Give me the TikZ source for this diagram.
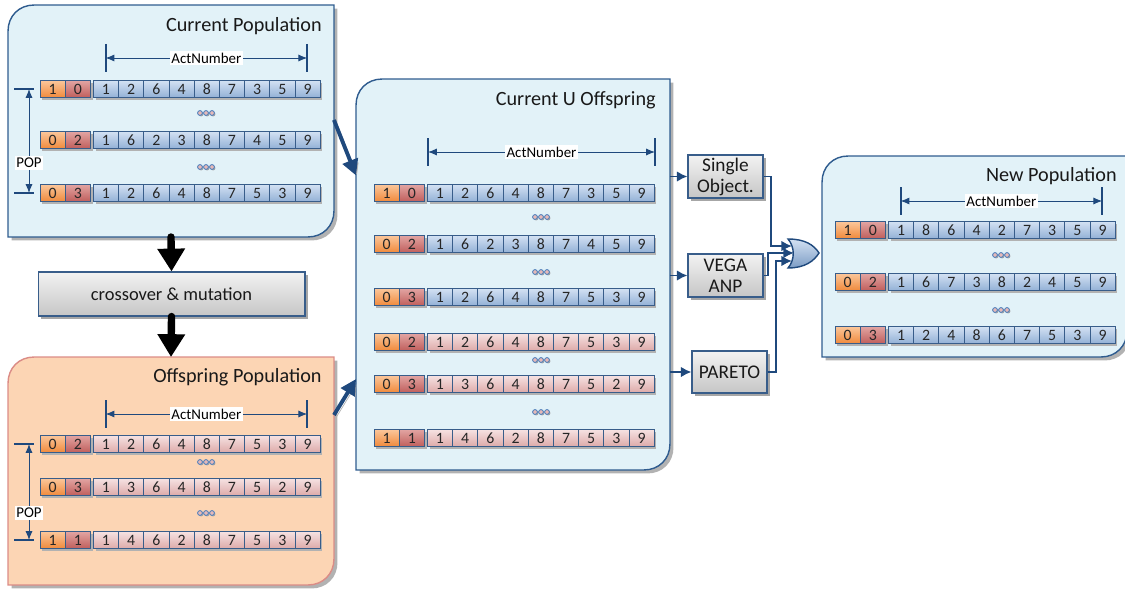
\documentclass[tikz,border=0pt]{standalone}
\usepackage{fontspec}
\setmainfont{Carlito}
\usetikzlibrary{arrows.meta,calc,shadows}
\pgfdeclarelayer{background}
\pgfsetlayers{background,main}

\definecolor{panelblue}{HTML}{E2F2F8}
\definecolor{panelline}{HTML}{2F5C8F}
\definecolor{panelorange}{HTML}{FCD5B4}
\definecolor{orangeline}{HTML}{DB8C86}
\definecolor{navy}{HTML}{1F497D}
\definecolor{cellline}{HTML}{385D8A}
\definecolor{geneT}{HTML}{D3E1F3}
\definecolor{geneB}{HTML}{93B1D6}
\definecolor{kidT}{HTML}{F6E2E2}
\definecolor{kidB}{HTML}{DDAAA9}
\definecolor{flagAT}{HTML}{FBC69A}
\definecolor{flagAB}{HTML}{F08A3C}
\definecolor{flagBT}{HTML}{E2A4A2}
\definecolor{flagBB}{HTML}{C05F5C}
\definecolor{dotpink}{HTML}{E6B9B8}
\definecolor{dotblue}{HTML}{4F81BD}

\tikzset{
  cell/.style={draw=cellline, line width=0.5pt, minimum width=0.504cm, minimum height=0.34cm,
    inner sep=0pt, font=\fontsize{9}{9}\selectfont, text=black!85,
    drop shadow={shadow xshift=1.2pt, shadow yshift=-1.2pt, opacity=1, fill=black!30}},
  gene/.style={top color=geneT, bottom color=geneB},
  kid/.style={top color=kidT, bottom color=kidB},
  flagA/.style={top color=flagAT, bottom color=flagAB},
  flagB/.style={top color=flagBT, bottom color=flagBB},
  area/.style={inner sep=0pt, outer sep=0pt},
  bluepanel/.style={draw=panelline, line width=0.8pt, fill=panelblue,
    drop shadow={shadow xshift=2pt, shadow yshift=-2pt, opacity=1, fill=black!30}},
  orangepanel/.style={bluepanel, draw=orangeline, fill=panelorange},
  title/.style={anchor=east, inner sep=0pt, font=\fontsize{11.5}{12}\selectfont, text=black!90},
  tick/.style={draw=navy, line width=1.1pt},
  dimarrow/.style={draw=navy, line width=0.5pt, {Latex[length=5pt,width=4pt]}-{Latex[length=5pt,width=4pt]}},
  dimlabel/.style={fill=white, inner sep=1pt, font=\fontsize{8.5}{9}\selectfont},
  dotmark/.style={draw=dotblue, fill=dotpink, line width=0.5pt,
    drop shadow={shadow xshift=0.6pt, shadow yshift=-0.6pt, opacity=1, fill=black!35}},
  proc/.style={draw=cellline, line width=0.6pt, top color=gray!10, bottom color=gray!45,
    inner sep=0pt, align=center, font=\fontsize{11}{12}\selectfont, text=black!90,
    drop shadow={shadow xshift=1.5pt, shadow yshift=-1.5pt, opacity=1, fill=black!35}},
  bigdown/.style={draw=black, line width=4.2pt, line cap=round, -{Triangle[length=13pt,width=15pt]}},
  bigflow/.style={draw=navy, line width=2.2pt, -{Triangle[length=9pt,width=9pt]},
    preaction={draw=black!30, transform canvas={shift={(1.3pt,-1.3pt)}}}},
  link/.style={draw=navy, line width=1.1pt, -{Latex[length=6pt,width=6pt]}},
  gate/.style={draw=navy, line width=0.8pt, top color=geneT, bottom color=geneB!80!navy}
}

\newcommand\panelpath[1]{(#1.south west) -- ($(#1.north west)+(0,26)$) .. controls ($(#1.north west)+(0,11)$) and ($(#1.north west)+(11,0)$) .. ($(#1.north west)+(26,0)$) -- (#1.north east) -- ($(#1.south east)+(0,-26)$) .. controls ($(#1.south east)+(0,-11)$) and ($(#1.south east)+(-11,0)$) .. ($(#1.south east)+(-26,0)$) -- cycle}

\newcommand\chromo[7]{%
  \node[cell,flagA] (#1-a) at (#2+12.6,#3) {#4};
  \node[cell,flagB] (#1-b) at (#2+37.8,#3) {#5};
  \foreach \g [count=\k] in {#6}
    \node[cell,#7] (#1-\k) at ({#2+66+25.2*(\k-1)},#3) {\g};
}

\newcommand\etcdots[2]{\foreach \d in {-6,0,6} \draw[dotmark] (#1+\d,#2) circle (2.4);}

\newcommand\actspan[4]{%
  \draw[tick] (#2,#4-14) -- (#2,#4+14);
  \draw[tick] (#3,#4-14) -- (#3,#4+14);
  \coordinate (#1-l) at (#2,#4);
  \coordinate (#1-r) at (#3,#4);
  \draw[dimarrow] (#1-l) -- node[dimlabel] (#1-t) {ActNumber} (#1-r);
}

\newcommand\popspan[4]{%
  \draw[tick] (14,#2) -- (34,#2);
  \draw[tick] (14,#3) -- (34,#3);
  \coordinate (#1-t) at (29,#2);
  \coordinate (#1-b) at (29,#3);
  \draw[dimarrow] (#1-t) -- (#1-b);
  \node[dimlabel] (#1-l) at (29,#4) {POP};
}

\begin{document}
\begin{tikzpicture}[x=0.02cm, y=-0.02cm]
\useasboundingbox (0,0) rectangle (1125,588);

\begin{pgfonlayer}{background}
\node[area, minimum width=6.52cm, minimum height=4.64cm] (curpop) at (171,121) {};
\node[area, minimum width=6.52cm, minimum height=4.56cm] (offpop) at (171,471) {};
\node[area, minimum width=6.28cm, minimum height=7.82cm] (cuoff) at (513,274.5) {};
\node[area, minimum width=6.1cm, minimum height=4.02cm] (newpop) at (974.5,256.5) {};
\draw[bluepanel] \panelpath{curpop};
\draw[orangepanel] \panelpath{offpop};
\draw[bluepanel] \panelpath{cuoff};
\draw[bluepanel] \panelpath{newpop};
\end{pgfonlayer}

\node[title] (curpop-t) at (322,26) {Current Population};
\actspan{curact}{105.6}{307.2}{58}
\chromo{cp1}{40}{89}{1}{0}{1,2,6,4,8,7,3,5,9}{gene}
\etcdots{206}{113}
\chromo{cp2}{40}{140}{0}{2}{1,6,2,3,8,7,4,5,9}{gene}
\etcdots{206}{167}
\chromo{cp3}{40}{193}{0}{3}{1,2,6,4,8,7,5,3,9}{gene}
\popspan{curpop}{89}{193}{163}

\node[proc, minimum width=5.34cm, minimum height=0.88cm, font=\fontsize{10.5}{12}\selectfont] (cross) at (171.5,294) {crossover \& mutation};
\draw[bigdown] (curpop.south) -- (cross.north);
\draw[bigdown] (cross.south) -- (offpop.north);

\node[title] (offpop-t) at (322,377) {Offspring Population};
\actspan{offact}{105.6}{307.2}{414}
\chromo{op1}{40}{444}{0}{2}{1,2,6,4,8,7,5,3,9}{kid}
\etcdots{206}{462}
\chromo{op2}{40}{487}{0}{3}{1,3,6,4,8,7,5,2,9}{kid}
\etcdots{206}{513}
\chromo{op3}{40}{540}{1}{1}{1,4,6,2,8,7,5,3,9}{kid}
\popspan{offpopd}{444}{540}{513}

\node[title] (cuoff-t) at (656,100) {Current U Offspring};
\actspan{cuact}{428}{655}{152}
\chromo{cu1}{374}{193}{1}{0}{1,2,6,4,8,7,3,5,9}{gene}
\etcdots{541}{217}
\chromo{cu2}{374}{244}{0}{2}{1,6,2,3,8,7,4,5,9}{gene}
\etcdots{541}{272}
\chromo{cu3}{374}{297}{0}{3}{1,2,6,4,8,7,5,3,9}{gene}
\chromo{cu4}{374}{342}{0}{2}{1,2,6,4,8,7,5,3,9}{kid}
\etcdots{541}{360}
\chromo{cu5}{374}{384}{0}{3}{1,3,6,4,8,7,5,2,9}{kid}
\etcdots{541}{412}
\chromo{cu6}{374}{438}{1}{1}{1,4,6,2,8,7,5,3,9}{kid}

\draw[bigflow] ($(curpop.east)+(0,-1)$) -- ($(cuoff.west)+(0,-99)$);
\draw[bigflow] ($(offpop.east)+(0,-56)$) -- ($(cuoff.west)+(0,104.5)$);

\node[proc, minimum width=1.5cm, minimum height=0.86cm] (single) at (725.5,176.5) {Single\\Object.};
\node[proc, minimum width=1.5cm, minimum height=0.86cm] (vega) at (725.5,275.5) {VEGA\\ANP};
\node[proc, minimum width=1.5cm, minimum height=0.84cm] (pareto) at (729.5,372) {PARETO};
\draw[link] (cuoff.east |- single.west) -- (single.west);
\draw[link] (cuoff.east |- vega.west) -- (vega.west);
\draw[link] (cuoff.east |- pareto.west) -- (pareto.west);

\draw[gate] (788,239) .. controls (805,239) and (814,245) .. (819,253) .. controls (814,261) and (805,268) .. (788,268) .. controls (795,260) and (795,247) .. cycle;
\coordinate (in1) at (792,246);
\coordinate (in2) at (794,253);
\coordinate (in3) at (792,261);
\draw[link] (single.east) -| ($(in1)+(-21,0)$) -- (in1);
\draw[link] (vega.east) -| ($(in2)+(-26,0)$) -- (in2);
\draw[link] (pareto.east) -| ($(in3)+(-16,0)$) -- (in3);

\node[title] (newpop-t) at (1117,176) {New Population};
\actspan{newact}{900.6}{1102.2}{201}
\chromo{np1}{835}{230}{1}{0}{1,8,6,4,2,7,3,5,9}{gene}
\etcdots{1001}{255}
\chromo{np2}{835}{282}{0}{2}{1,6,7,3,8,2,4,5,9}{gene}
\etcdots{1001}{310}
\chromo{np3}{835}{335}{0}{3}{1,2,4,8,6,7,5,3,9}{gene}
\end{tikzpicture}
\end{document}
